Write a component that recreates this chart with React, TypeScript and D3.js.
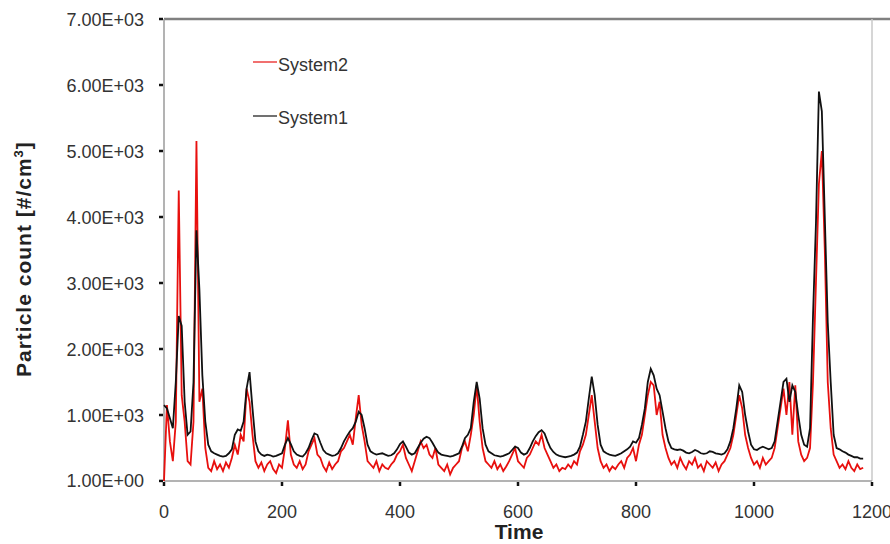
import React from "react";
import * as d3 from "d3";

const TIME_STEP = 5;
const system1: number[] = [
  1150, 1100, 950, 800, 1500, 2500, 2350, 1200, 700, 750,
  1500, 3800, 2900, 1600, 900, 550, 450, 420, 400, 380,
  370, 380, 420, 480, 700, 780, 760, 900, 1400, 1650,
  1100, 600, 450, 400, 380, 400, 390, 370, 380, 400,
  420, 550, 650, 560, 450, 400, 380, 370, 420, 500,
  620, 720, 700, 580, 470, 420, 400, 380, 390, 420,
  500, 600, 680, 750, 800, 900, 1050, 1000, 800, 550,
  450, 420, 400, 410, 420, 400, 380, 390, 420, 480,
  560, 600, 520, 430, 400, 420, 500, 580, 640, 670,
  650, 580, 500, 430, 400, 390, 380, 370, 380, 400,
  420, 520, 650, 700, 800, 1200, 1500, 1250, 800, 550,
  450, 420, 390, 380, 370, 380, 400, 420, 470, 520,
  500, 430, 400, 420, 500, 600, 680, 740, 770, 720,
  600, 500, 440, 400, 380, 370, 360, 370, 380, 400,
  430, 520, 700, 900, 1250, 1580, 1300, 850, 550, 450,
  420, 400, 390, 380, 400, 420, 450, 480, 520, 600,
  580, 650, 850, 1100, 1500, 1700, 1600, 1400, 1300, 1050,
  800, 600, 500, 480, 470, 480, 460, 430, 420, 440,
  470, 450, 420, 410, 420, 450, 440, 420, 410, 400,
  420, 480, 600, 800, 1100, 1450, 1350, 1000, 750, 550,
  480, 470, 500, 520, 500, 480, 500, 600, 900, 1200,
  1500, 1550, 1200, 1450, 1350, 1000, 700, 550, 520, 800,
  2500, 3900, 5900, 5600, 4000, 2400, 1500, 700, 500, 480,
  450, 430, 400, 380, 360, 360, 340, 340,
];
const system2: number[] = [
  0, 1150, 600, 300, 900, 4400, 1300, 900, 300, 250,
  900, 5150, 1200, 1400, 500, 200, 150, 300, 180, 250,
  150, 280, 200, 350, 550, 400, 700, 600, 1400, 1200,
  700, 300, 200, 280, 150, 250, 300, 180, 120, 250,
  200, 500, 920, 400, 250, 200, 300, 180, 250, 450,
  550, 650, 400, 350, 220, 150, 280, 180, 250, 300,
  450, 500, 600, 700, 550, 950, 1300, 850, 600, 300,
  250, 200, 300, 150, 250, 200, 180, 250, 300, 400,
  450, 550, 350, 250, 150, 300, 450, 600, 500, 550,
  400, 350, 500, 250, 200, 150, 250, 100, 200, 250,
  300, 500, 600, 450, 700, 1000, 1450, 900, 500, 300,
  250, 200, 300, 180, 250, 150, 220, 300, 400, 500,
  300, 250, 200, 350, 400, 500, 600, 550, 700, 500,
  400, 300, 200, 250, 150, 200, 180, 250, 200, 300,
  250, 450, 550, 700, 1000, 1300, 900, 500, 300, 200,
  250, 150, 220, 180, 250, 300, 200, 350, 400, 500,
  300, 550, 700, 1000, 1300, 1500, 1450, 1000, 1200, 700,
  500, 350, 250, 300, 200, 350, 250, 180, 300, 250,
  350, 200, 250, 150, 300, 250, 200, 280, 150, 250,
  300, 400, 500, 700, 1000, 1300, 1100, 700, 500, 350,
  250, 300, 200, 350, 250, 300, 350, 500, 800, 1100,
  1400, 1000, 1500, 700, 1450, 600, 400, 300, 350, 500,
  1500, 3000, 4500, 5000, 3500, 1500, 800, 400, 300, 200,
  250, 180, 300, 200, 150, 250, 180, 200,
];
const xTicks: number[] = [0, 200, 400, 600, 800, 1000, 1200];
const yTicks: number[] = [1, 1000, 2000, 3000, 4000, 5000, 6000, 7000];
const yTickLabels: string[] = ["1.00E+00", "1.00E+03", "2.00E+03", "3.00E+03", "4.00E+03", "5.00E+03", "6.00E+03", "7.00E+03"];
const legendNames: string[] = ["System2", "System1"];
const legendColors: string[] = ["#e8100e", "#111111"];

const W = 890, H = 544;
const L = 164, R = 872, T = 19, B = 481;

export default function App() {
  const x = d3.scaleLinear().domain([0, 1200]).range([L, R]);
  const y = d3.scaleLinear().domain([0, 7000]).range([B, T]);
  const line = d3
    .line<number>()
    .x((_, i) => x(i * TIME_STEP))
    .y((d) => y(d));
  const font = "'Liberation Sans', Arial, sans-serif";
  return (
    <svg width={W} height={H} style={{ position: "absolute", left: 0, top: 0, background: "#fff" }} fontFamily={font}>
      <rect x={0} y={0} width={W} height={H} fill="#fff" />
      {/* frame */}
      <line x1={L} x2={W} y1={T} y2={T} stroke="#808080" strokeWidth={2.5} />
      <line x1={R} x2={R} y1={T} y2={B} stroke="#c8c8c8" strokeWidth={1.5} />
      <line x1={L} x2={R} y1={B} y2={B} stroke="#9a9a9a" strokeWidth={1.5} />
      <line x1={L} x2={L} y1={T} y2={B} stroke="#9a9a9a" strokeWidth={1.5} />
      {/* series */}
      <path d={line(system2) || ""} fill="none" stroke="#e8100e" strokeWidth={1.8} />
      <path d={line(system1) || ""} fill="none" stroke="#111" strokeWidth={1.8} />
      {/* y ticks */}
      {yTicks.map((t, i) => (
        <g key={t}>
          <line x1={L - 5} x2={L - 1} y1={y(t)} y2={y(t)} stroke="#111" strokeWidth={2.5} />
          <text x={144} y={y(t) + 6.5} textAnchor="end" fontSize={18} fill="#333">
            {yTickLabels[i]}
          </text>
        </g>
      ))}
      {/* x ticks */}
      {xTicks.map((t) => (
        <g key={t}>
          <line x1={x(t)} x2={x(t)} y1={B + 1} y2={B + 5} stroke="#111" strokeWidth={2.5} />
          <text x={x(t)} y={518} textAnchor="middle" fontSize={18} fill="#333">
            {t}
          </text>
        </g>
      ))}
      {/* axis titles */}
      <text x={519} y={539} textAnchor="middle" fontSize={21} fontWeight="bold" fill="#222">
        Time
      </text>
      <text transform="translate(31,377) rotate(-90)" textAnchor="start" fontSize={21} fontWeight="bold" fill="#222" letterSpacing={1}>
        Particle count [#/cm<tspan dy={-8} fontSize={13}>3</tspan><tspan dy={8}>]</tspan>
      </text>
      {/* legend */}
      {legendNames.map((n, i) => (
        <g key={n}>
          <line x1={253} x2={277} y1={i === 0 ? 62 : 116} y2={i === 0 ? 62 : 116} stroke={legendColors[i]} strokeWidth={1.2} />
          <text x={278} y={i === 0 ? 71 : 124} fontSize={18} fill="#333">
            {n}
          </text>
        </g>
      ))}
    </svg>
  );
}
